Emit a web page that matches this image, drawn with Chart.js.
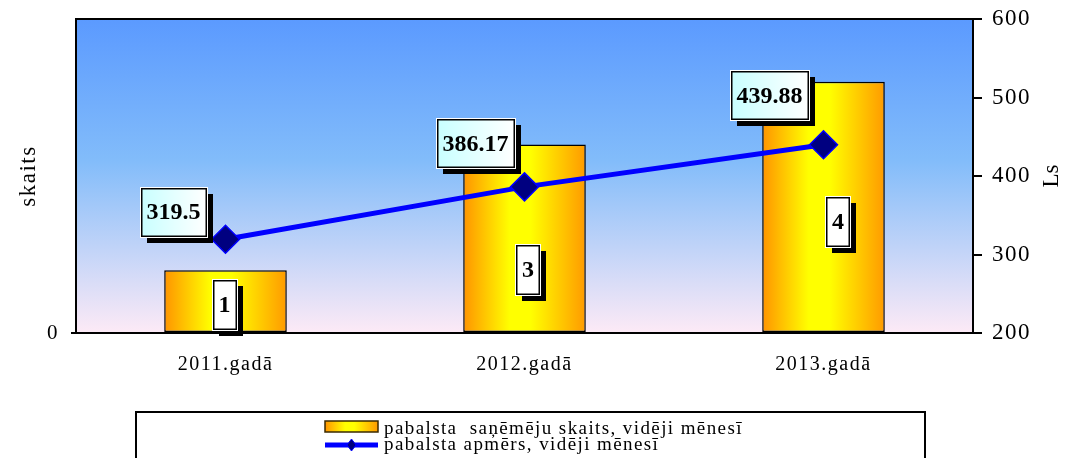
<!DOCTYPE html>
<html>
<head>
<meta charset="utf-8">
<script src="https://cdn.jsdelivr.net/npm/chart.js@4.4.1/dist/chart.umd.min.js"></script>
<style>
  html, body { margin: 0; padding: 0; background: #ffffff; }
  #wrap { width: 1066px; height: 458px; position: relative; }
</style>
</head>
<body>
<div id="wrap"><canvas id="c" width="1066" height="458"></canvas></div>
<script>
// Categories and series
const categories = ['2011.gadā', '2012.gadā', '2013.gadā'];
const recipients = [1, 3, 4];                 // pabalsta saņēmēju skaits
const amounts = [319.5, 386.17, 439.88];      // pabalsta apmērs, Ls
const countTicks = [0];
const lsTicks = [200, 300, 400, 500, 600];

const seriesNames = ['pabalsta  saņēmēju skaits, vidēji mēnesī', 'pabalsta apmērs, vidēji mēnesī'];
const rightTitle = 'Ls';

const SERIF = '"Liberation Serif", "Times New Roman", serif';
const BAR_PCT = 0.41;

function barGradient(ctx, x0, x1) {
  const g = ctx.createLinearGradient(x0, 0, x1, 0);
  g.addColorStop(0, '#ff9400');
  g.addColorStop(0.38, '#ffff00');
  g.addColorStop(0.55, '#ffff00');
  g.addColorStop(1, '#ff9a00');
  return g;
}

function setSpacing(ctx, v) {
  if ('letterSpacing' in ctx) ctx.letterSpacing = v;
}

// vertical axes: no extra room reserved for half-labels at the ends
function noEndPadding(s) {
  s.paddingTop = 0;
  s.paddingBottom = 0;
}

// Plot background, frame and the right-hand axis title
const plotBackground = {
  id: 'plotBackground',
  beforeDraw(chart) {
    setSpacing(chart.ctx, '1.5px');
  },
  beforeDatasetsDraw(chart) {
    const { ctx, chartArea: a } = chart;
    ctx.save();
    const g = ctx.createLinearGradient(0, a.top, 0, a.bottom);
    g.addColorStop(0, '#5b9aff');
    g.addColorStop(0.45, '#82bcfa');
    g.addColorStop(1, '#fdeaf6');
    ctx.fillStyle = g;
    ctx.fillRect(a.left, a.top, a.right - a.left, a.bottom - a.top);
    ctx.restore();
  },
  afterDraw(chart) {
    const { ctx, chartArea: a } = chart;
    ctx.save();
    ctx.strokeStyle = '#000';
    ctx.lineWidth = 2;
    ctx.strokeRect(a.left, a.top, a.right - a.left, a.bottom - a.top);

    ctx.translate(1052, (a.top + a.bottom) / 2);
    ctx.rotate(-Math.PI / 2);
    setSpacing(ctx, '0px');
    ctx.fillStyle = '#000';
    ctx.font = '23px ' + SERIF;
    ctx.textAlign = 'center';
    ctx.textBaseline = 'middle';
    ctx.fillText(rightTitle, 0, 0);
    ctx.restore();
  }
};

function drawBox(ctx, cx, cy, w, h, fillFn) {
  const x = Math.round(cx - w / 2), y = Math.round(cy - h / 2);
  ctx.fillStyle = '#000';
  ctx.fillRect(x + 6, y + 6, w, h);
  ctx.fillStyle = '#ffffff';
  ctx.fillRect(x - 1, y - 1, w + 2, h + 2);
  ctx.fillStyle = fillFn(x, y, w, h);
  ctx.fillRect(x, y, w, h);
  ctx.strokeStyle = '#000';
  ctx.lineWidth = 1.5;
  ctx.strokeRect(x + 0.75, y + 0.75, w - 1.5, h - 1.5);
}

// Value boxes for bars and line points
const valueBoxes = {
  id: 'valueBoxes',
  afterDatasetsDraw(chart, args, opts) {
    const { ctx } = chart;
    ctx.save();
    setSpacing(ctx, '0px');
    ctx.font = 'bold 24px ' + SERIF;
    ctx.textAlign = 'center';
    ctx.textBaseline = 'middle';

    const barMeta = chart.getDatasetMeta(0);
    barMeta.data.forEach((el, i) => {
      const txt = String(chart.data.datasets[0].data[i]);
      const off = opts.barOffsets[i];
      const cx = el.x + off[0], cy = el.base + off[1];
      const w = ctx.measureText(txt).width + 12;
      drawBox(ctx, cx, cy, w, 50, () => '#ffffff');
      ctx.fillStyle = '#000';
      ctx.fillText(txt, cx, cy + 1);
    });

    const lineMeta = chart.getDatasetMeta(1);
    lineMeta.data.forEach((el, i) => {
      const txt = String(chart.data.datasets[1].data[i]);
      const off = opts.lineOffsets[i];
      const cx = el.x + off[0], cy = el.y + off[1];
      const w = ctx.measureText(txt).width + 12;
      drawBox(ctx, cx, cy, w, 49, (x, y, bw) => {
        const g = ctx.createLinearGradient(x, y, x + bw, y);
        g.addColorStop(0, '#c8ffff');
        g.addColorStop(1, '#ffffff');
        return g;
      });
      ctx.fillStyle = '#000';
      ctx.fillText(txt, cx, cy + 1);
    });
    ctx.restore();
  }
};

// Framed legend under the chart
const boxedLegend = {
  id: 'boxedLegend',
  afterDraw(chart) {
    const { ctx } = chart;
    ctx.save();
    ctx.strokeStyle = '#000';
    ctx.lineWidth = 2;
    ctx.strokeRect(136, 412, 789, 80);

    // bar swatch
    ctx.fillStyle = barGradient(ctx, 325, 378);
    ctx.fillRect(325, 421, 53, 11);
    ctx.strokeStyle = '#3a2a00';
    ctx.lineWidth = 1.5;
    ctx.strokeRect(325, 421, 53, 11);

    // line swatch
    ctx.strokeStyle = '#0000ff';
    ctx.lineWidth = 5;
    ctx.beginPath();
    ctx.moveTo(325, 445);
    ctx.lineTo(378, 445);
    ctx.stroke();
    ctx.fillStyle = '#000080';
    ctx.strokeStyle = '#0000ff';
    ctx.lineWidth = 1;
    ctx.beginPath();
    ctx.moveTo(351.5, 439); ctx.lineTo(356, 445); ctx.lineTo(351.5, 451); ctx.lineTo(347, 445);
    ctx.closePath();
    ctx.fill(); ctx.stroke();

    ctx.fillStyle = '#000';
    ctx.font = '19px ' + SERIF;
    ctx.textBaseline = 'middle';
    ctx.textAlign = 'left';
    setSpacing(ctx, '1.4px');
    ctx.fillText(seriesNames[0], 384, 429);
    ctx.fillText(seriesNames[1], 384, 445);
    ctx.restore();
  }
};

new Chart(document.getElementById('c'), {
  data: {
    labels: categories,
    datasets: [
      {
        type: 'bar',
        label: seriesNames[0],
        data: recipients,
        yAxisID: 'y',
        order: 1,
        barPercentage: BAR_PCT,
        categoryPercentage: 1,
        borderColor: '#000',
        borderWidth: 1.5,
        borderSkipped: false,
        backgroundColor(c) {
          const chart = c.chart;
          const a = chart.chartArea;
          if (!a || c.dataIndex === undefined) return '#ffcc00';
          const xs = chart.scales.x;
          const cx = xs.getPixelForValue(c.dataIndex);
          const w = (a.right - a.left) / categories.length * BAR_PCT;
          return barGradient(chart.ctx, cx - w / 2, cx + w / 2);
        }
      },
      {
        type: 'line',
        label: seriesNames[1],
        data: amounts,
        yAxisID: 'y1',
        order: 0,
        borderColor: '#0000ff',
        borderWidth: 5,
        tension: 0,
        pointStyle: 'rectRot',
        pointRadius: 14,
        pointHoverRadius: 14,
        pointBackgroundColor: '#000080',
        pointBorderColor: '#0000ff',
        pointBorderWidth: 1.5
      }
    ]
  },
  options: {
    responsive: false,
    animation: false,
    devicePixelRatio: 1,
    layout: { padding: { top: 19, left: 0, right: 0, bottom: 0 } },
    plugins: {
      legend: { display: false },
      tooltip: { enabled: false },
      valueBoxes: {
        barOffsets: [[-1, -27], [3.5, -62], [14.5, -110]],
        lineOffsets: [[-52, -27], [-49, -43], [-54, -49]]
      }
    },
    scales: {
      x: {
        type: 'category',
        offset: true,
        grid: { display: false, drawTicks: false },
        border: { display: true, color: '#000', width: 2 },
        ticks: { color: '#000', font: { family: SERIF, size: 20 }, padding: 20, maxRotation: 0 },
        afterFit(s) { s.height = 125; }
      },
      y: {
        position: 'left',
        min: 0,
        max: 5,
        afterBuildTicks(s) { s.ticks = countTicks.map(v => ({ value: v })); },
        grid: { display: true, drawOnChartArea: false, drawTicks: true, tickLength: 5, color: '#000', lineWidth: 2 },
        border: { display: true, color: '#000', width: 2 },
        ticks: { color: '#000', font: { family: SERIF, size: 21 }, padding: 12 },
        title: { display: true, text: 'skaits', color: '#000', font: { family: SERIF, size: 23 }, padding: { top: 15, bottom: 0 } },
        afterFit(s) { s.width = 76; noEndPadding(s); }
      },
      y1: {
        position: 'right',
        min: 200,
        max: 600,
        afterBuildTicks(s) { s.ticks = lsTicks.map(v => ({ value: v })); },
        grid: { display: true, drawOnChartArea: false, drawTicks: true, tickLength: 9, color: '#000', lineWidth: 2 },
        border: { display: true, color: '#000', width: 2 },
        ticks: { color: '#000', font: { family: SERIF, size: 23 }, padding: 10 },
        afterFit(s) { s.width = 93; noEndPadding(s); }
      }
    }
  },
  plugins: [plotBackground, valueBoxes, boxedLegend]
});
</script>
</body>
</html>
